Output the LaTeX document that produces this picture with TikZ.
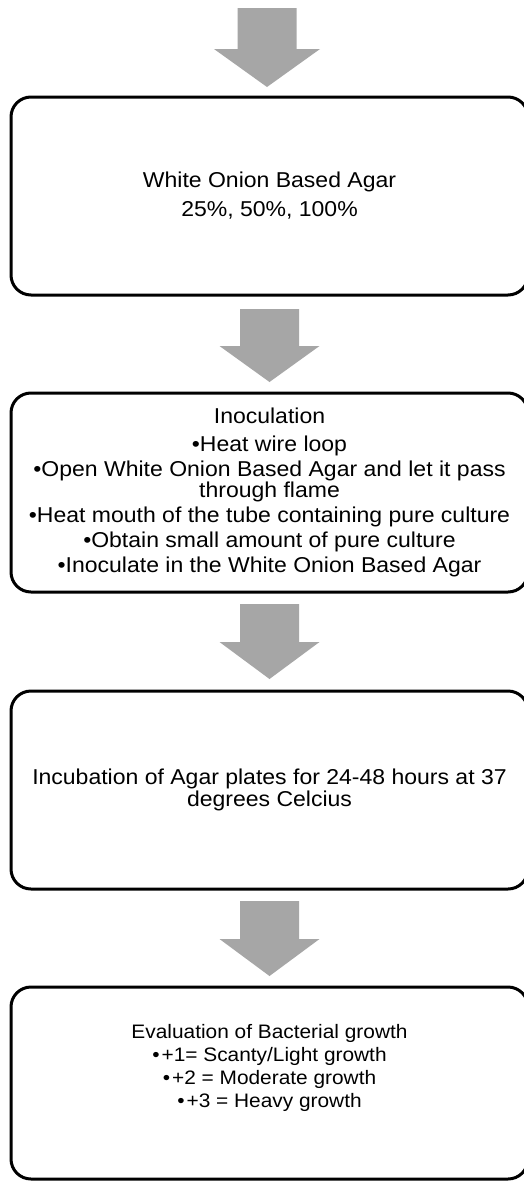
\documentclass[tikz,border=0pt]{standalone}
\usepackage{fontspec}
\setmainfont{Liberation Sans}[FakeStretch=1.07]
\usetikzlibrary{calc}
\definecolor{arrowfill}{HTML}{A6A6A6}
\newcommand\fatarrow[4]{%
  \fill[arrowfill] let \p1=(#1), \p2=(#2) in
    (\x1-29.5pt,\y1) -- (\x1+29.5pt,\y1) -- (\x1+29.5pt,\y2+#3) -- (\x1+#4,\y2+#3)
    -- (\x1,\y2) -- (\x1-#4,\y2+#3) -- (\x1-29.5pt,\y2+#3) -- cycle;}
\tikzset{
  stepbox/.style={draw=black, line width=3pt, rounded corners=20pt, fill=white,
    minimum width=517pt, inner sep=0pt, outer sep=0pt, align=center,
    font=\fontsize{21.5}{24}\selectfont},
}
\begin{document}
\begin{tikzpicture}[x=1pt,y=1pt]
\useasboundingbox (0,0) rectangle (524,-1183);
\fill[white] (0,0) rectangle (524,-1183);

\node[stepbox, minimum height=198pt] (b1) at (269.5,-196)
  {White Onion Based Agar\\[5pt]25\%, 50\%, 100\%};

\node[stepbox, minimum height=199pt, font=\fontsize{21.5}{21}\selectfont] (b2) at (269.5,-492.5)
  {Inoculation\\[7pt]
   •Heat wire loop\\[4pt]
   •Open White Onion Based Agar and let it pass\\
   through flame\\[4pt]
   •Heat mouth of the tube containing pure culture\\[4pt]
   •Obtain small amount of pure culture\\[4pt]
   •Inoculate in the White Onion Based Agar};

\node[stepbox, minimum height=198pt, font=\fontsize{21.5}{22}\selectfont] (b3) at (269.5,-790)
  {Incubation of Agar plates for 24-48 hours at 37\\degrees Celcius};

\node[stepbox, minimum height=192pt, font=\fontsize{19.5}{23}\selectfont] (b4) at (269.5,-1083)
  {Evaluation of Bacterial growth\\
   •\kern2pt+1= Scanty/Light growth\\
   •\kern2pt+2 = Moderate growth\\
   •\kern2pt+3 = Heavy growth\\[12pt]};

\coordinate (start) at (267,-8);
\fatarrow{start}{$(b1.north)+(0,10)$}{38pt}{53pt}
\fatarrow{$(b1.south)+(0,-14)$}{$(b2.north)+(0,11)$}{36pt}{50pt}
\fatarrow{$(b2.south)+(0,-12)$}{$(b3.north)+(0,12)$}{37pt}{50pt}
\fatarrow{$(b3.south)+(0,-12)$}{$(b4.north)+(0,11)$}{37pt}{50pt}
\end{tikzpicture}
\end{document}
